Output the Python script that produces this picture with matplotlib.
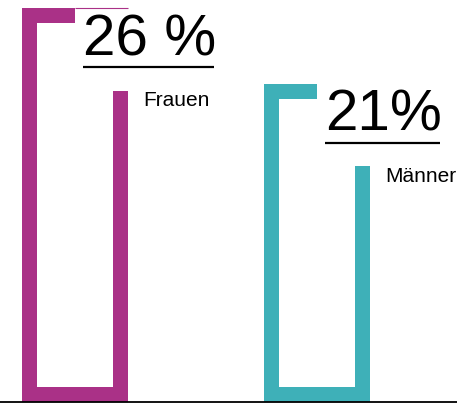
import matplotlib.pyplot as plt

plt.rcParams["font.family"] = ["Liberation Sans", "DejaVu Sans"]

groups = ["Frauen", "Männer"]
shares = [26, 21]
share_labels = ["26 %", "21%"]
colors = ["#AA3187", "#3EB0B8"]

fig = plt.figure(figsize=(4.57, 4.04), dpi=100)
ax = fig.add_axes([0, 0, 1, 1])
ax.set_xlim(-0.31, 1.579)
ax.set_ylim(-0.13, 26.53)
ax.axis("off")

hw = 0.219      # half width of a bracket
tw = 0.062      # stroke width (x units)
th = 1.0        # stroke height (y units)

for i, (name, val, lab, c) in enumerate(zip(groups, shares, share_labels, colors)):
    xc = i
    # left post, bottom, right post and the short tab at the top
    ax.bar(xc - hw, val, width=tw, align="edge", color=c, linewidth=0)
    ax.bar(xc - hw, th, width=2 * hw, align="edge", color=c, linewidth=0)
    ax.bar(xc + hw - tw, val - 5.45, width=tw, align="edge", color=c, linewidth=0)
    ax.bar(xc - hw, th, bottom=val - th, width=hw, align="edge", color=c, linewidth=0)
    if i == 0:
        ax.plot([xc, xc + hw], [val - 0.03, val - 0.03], color=c, lw=0.8,
                solid_capstyle="butt")

    t = ax.text(xc + 0.033, val - 3.1, lab, fontsize=42, va="baseline",
                ha="left", color="black")
    fig.canvas.draw()
    bb = t.get_window_extent().transformed(ax.transData.inverted())
    ax.plot([bb.x0, bb.x1 - 0.008], [val - 3.9, val - 3.9], color="black", lw=1.6,
            solid_capstyle="butt")

    ax.text(xc + hw + 0.063, val - 6.45, name, fontsize=15, va="baseline",
            ha="left", color="black")

ax.axhline(-0.03, color="black", lw=1.3)

fig.savefig("out.png", dpi=100)
